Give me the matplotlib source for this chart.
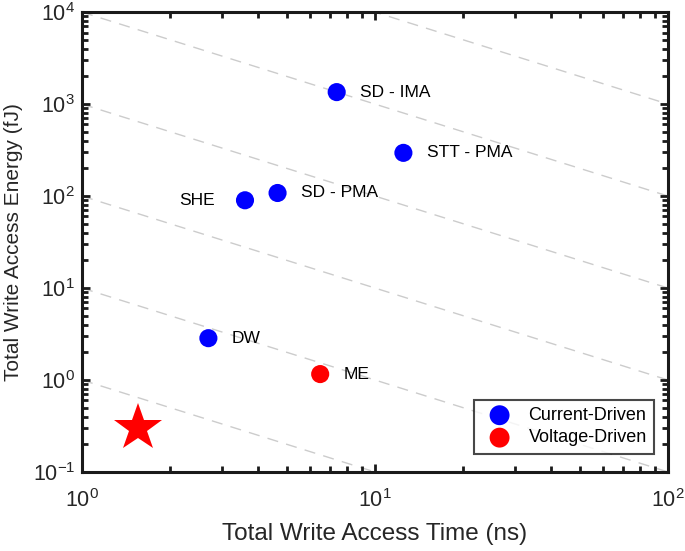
import numpy as np
import matplotlib
matplotlib.use('Agg')
import matplotlib.pyplot as plt
from matplotlib.ticker import LogLocator, LogFormatterMathtext, NullFormatter

plt.rcParams['font.family'] = ['Liberation Sans', 'DejaVu Sans']
plt.rcParams['mathtext.fontset'] = 'custom'
plt.rcParams['mathtext.rm'] = 'Liberation Sans'

# data
cur_names = ['SD - IMA', 'STT - PMA', 'SD - PMA', 'SHE', 'DW']
cur_time = [7.4, 12.5, 4.65, 3.6, 2.7]
cur_energy = [1350, 295, 108, 90, 2.85]
volt_names = ['ME']
volt_time = [6.5]
volt_energy = [1.16]
star_time = [1.55]
star_energy = [0.30]
# energy-delay product guide lines, E*t = 10^k
edp_exp = [-1, 0, 1, 2, 3, 4, 5, 6]

fig = plt.figure(figsize=(6.85, 5.51), dpi=100)
ax = fig.add_axes([0.1197, 0.1434, 0.8555, 0.8346])

#虚线
t = np.logspace(0, 2, 50)
for k in edp_exp:
    ax.plot(t, 10.0**k / t, ls=(0, (8, 6)), color='#cccccc', lw=1.0, zorder=1)

#点
ax.scatter(cur_time, cur_energy, s=170, color='#0000ff', edgecolors='none',
           zorder=3, label='Current-Driven')
ax.scatter(volt_time, volt_energy, s=170, color='#ff0000', edgecolors='none',
           zorder=3, label='Voltage-Driven')
ax.plot(star_time, star_energy, marker='*', ms=36, color='#ff0000', ls='none',
        markeredgewidth=0, zorder=3)

#标签
for name, x, y in zip(cur_names + volt_names, cur_time + volt_time, cur_energy + volt_energy):
    if name == 'SHE':
        ax.annotate(name, (x, y), xytext=(-22, 0), textcoords='offset points',
                    ha='right', va='center', fontsize=12.5)
    else:
        ax.annotate(name, (x, y), xytext=(17, 0), textcoords='offset points',
                    ha='left', va='center', fontsize=12.5)

ax.set_xscale('log')
ax.set_yscale('log')
ax.set_xlim(1, 100)
ax.set_ylim(0.1, 1e4)

ax.xaxis.set_major_locator(LogLocator(base=10, numticks=10))
ax.yaxis.set_major_locator(LogLocator(base=10, numticks=10))
ax.xaxis.set_minor_locator(LogLocator(base=10, subs=np.arange(2, 10), numticks=20))
ax.yaxis.set_minor_locator(LogLocator(base=10, subs=np.arange(2, 10), numticks=20))
ax.xaxis.set_major_formatter(LogFormatterMathtext())
ax.yaxis.set_major_formatter(LogFormatterMathtext())
ax.xaxis.set_minor_formatter(NullFormatter())
ax.yaxis.set_minor_formatter(NullFormatter())

ax.tick_params(which='both', direction='in', top=True, right=True, width=2, color='#1a1a1a')
ax.tick_params(which='major', length=6, labelsize=15.5, labelcolor='#262626')
ax.tick_params(axis='x', which='major', pad=12)
ax.tick_params(axis='y', which='major', pad=5)
ax.tick_params(which='minor', length=4)
for sp in ax.spines.values():
    sp.set_linewidth(2.2)
    sp.set_color('#1a1a1a')

ax.set_xlabel('Total Write Access Time (ns)', fontsize=17.5, color='#262626', labelpad=8)
ax.set_ylabel('Total Write Access Energy (fJ)', fontsize=15, color='#262626', labelpad=7)

leg = ax.legend(loc='lower right', fontsize=13, frameon=True, fancybox=False,
                borderaxespad=0.0, bbox_to_anchor=(0.976, 0.04),
                handletextpad=0.6, borderpad=0.4, labelspacing=0.3,
                markerscale=1.1)
leg.get_frame().set_edgecolor('#1a1a1a')
leg.get_frame().set_linewidth(1.5)

fig.savefig('out.png', dpi=100)
